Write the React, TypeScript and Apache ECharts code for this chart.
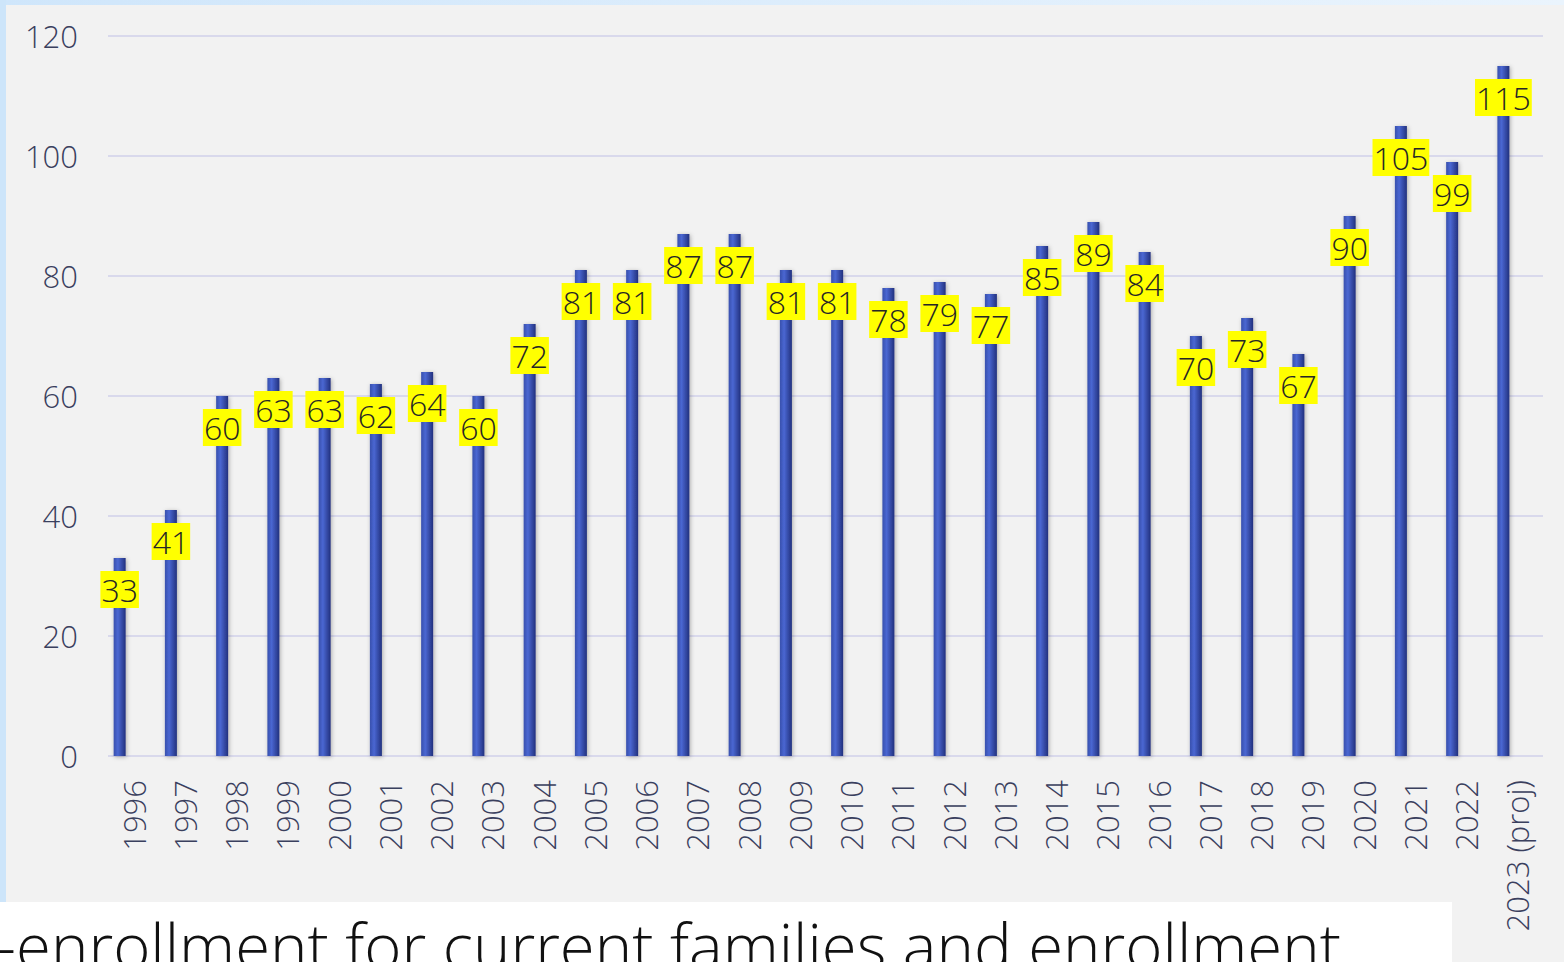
import React, { useEffect, useRef } from "react";
import * as echarts from "echarts";

const categories = [
  "1996", "1997", "1998", "1999", "2000", "2001", "2002", "2003", "2004", "2005",
  "2006", "2007", "2008", "2009", "2010", "2011", "2012", "2013", "2014", "2015",
  "2016", "2017", "2018", "2019", "2020", "2021", "2022", "2023 (proj)",
];
const enrollment = [
  33, 41, 60, 63, 63, 62, 64, 60, 72, 81,
  81, 87, 87, 81, 81, 78, 79, 77, 85, 89,
  84, 70, 73, 67, 90, 105, 99, 115,
];
const emptySeries = categories.map(() => null);
const yTicks = { min: 0, max: 120, interval: 20 };
const captionText = "Re-enrollment for current families and enrollment";

export default function App() {
  const ref = useRef<HTMLDivElement>(null);
  useEffect(() => {
    document.body.style.margin = "0";
    const chart = echarts.init(ref.current!, null, { renderer: "svg" });
    const font = "'Open Sans', 'Noto Sans', sans-serif";
    chart.setOption({
      animation: false,
      backgroundColor: "#f2f2f2",
      grid: { left: 108, right: 21, top: 36, bottom: 206, containLabel: false },
      xAxis: {
        type: "category",
        data: categories,
        axisLine: { show: false },
        axisTick: { show: false },
        axisLabel: {
          interval: 0,
          rotate: 90,
          margin: 24,
          color: "#3a405e",
          fontSize: 31,
          fontFamily: font,
          fontWeight: 300,
        },
      },
      yAxis: {
        type: "value",
        min: yTicks.min,
        max: yTicks.max,
        interval: yTicks.interval,
        axisLine: { show: false },
        axisTick: { show: false },
        splitLine: { lineStyle: { color: "#d9d9ec", width: 2 } },
        axisLabel: {
          margin: 30,
          color: "#3a405e",
          fontSize: 31,
          fontFamily: font,
          fontWeight: 300,
        },
      },
      series: [
        {
          type: "bar",
          data: enrollment,
          barWidth: 12,
          barGap: "133%",
          itemStyle: {
            color: new echarts.graphic.LinearGradient(0, 0, 1, 0, [
              { offset: 0, color: "#3850ad" },
              { offset: 0.35, color: "#4a67d2" },
              { offset: 1, color: "#22317e" },
            ]),
            shadowColor: "rgba(0,0,0,0.3)",
            shadowBlur: 4,
            shadowOffsetX: 1,
            shadowOffsetY: 1,
          },
          label: {
            show: true,
            position: "insideTop",
            distance: 13,
            color: "#262626",
            backgroundColor: "#ffff00",
            fontSize: 32,
            lineHeight: 37,
            padding: [0, 1, 0, 1],
            fontFamily: font,
            fontWeight: 300,
          },
        },
        {
          type: "bar",
          data: emptySeries,
          barWidth: 12,
          silent: true,
        },
      ],
      graphic: [
        {
          type: "rect",
          left: 0,
          top: 0,
          shape: { width: 1564, height: 5 },
          style: {
            fill: new echarts.graphic.LinearGradient(0, 0, 1, 0, [
              { offset: 0, color: "#cfe6fb" },
              { offset: 1, color: "#eaf4fd" },
            ]),
          },
          z: 10,
        },
        {
          type: "rect",
          left: 0,
          top: 0,
          shape: { width: 6, height: 902 },
          style: { fill: "#cde5fa" },
          z: 10,
        },
        {
          type: "rect",
          left: 0,
          top: 902,
          shape: { width: 1452, height: 60 },
          style: { fill: "#ffffff" },
          z: 10,
        },
        {
          type: "text",
          x: -77,
          y: 976,
          z: 11,
          style: {
            text: captionText,
            fill: "#111111",
            fontSize: 63.5,
            fontFamily: font,
            fontWeight: 300,
            verticalAlign: "bottom",
          },
        },
      ],
    });
    return () => chart.dispose();
  }, []);
  return <div ref={ref} style={{ width: 1564, height: 962 }} />;
}
